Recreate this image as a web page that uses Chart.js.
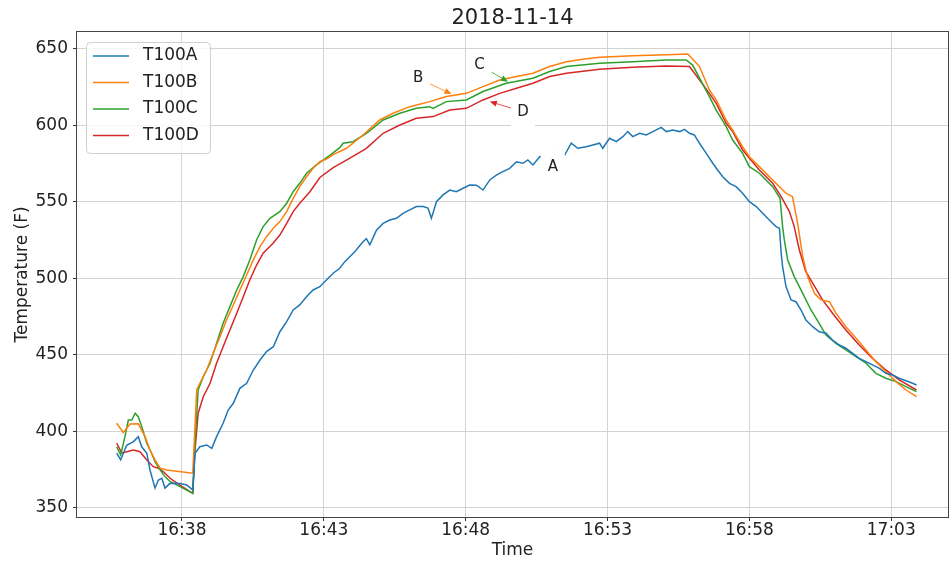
<!DOCTYPE html>
<html>
<head>
<meta charset="utf-8">
<script src="https://cdn.jsdelivr.net/npm/chart.js@4.4.0/dist/chart.umd.min.js"></script>
<style>
  html, body { margin: 0; padding: 0; background: #fff; }
  #wrap { width: 951px; height: 561px; }
</style>
</head>
<body>
<div id="wrap"><canvas id="tempChart" width="951" height="561"></canvas></div>
<script>
// Time is in minutes after 16:00, temperatures in F
const timeA = [35.70, 35.84, 36.05, 36.29, 36.46, 36.58, 36.76, 36.87, 37.05, 37.17, 37.29, 37.40, 37.58, 37.93, 38.17, 38.38,
  38.46, 38.63, 38.87, 39.05, 39.22, 39.45, 39.63, 39.81, 40.04, 40.28, 40.51, 40.75, 40.98, 41.22, 41.45, 41.69, 41.92,
  42.15, 42.39, 42.62, 42.86, 43.09, 43.33, 43.56, 43.74, 44.09, 44.38, 44.50, 44.62, 44.86, 45.09, 45.32, 45.56, 45.79,
  46.03, 46.26, 46.50, 46.67, 46.79, 46.97, 47.20, 47.44, 47.67, 47.91, 48.14, 48.38, 48.61, 48.85, 49.08, 49.31, 49.55,
  49.79, 50.02, 50.19, 50.37, 50.61, 51.00, 51.30, 51.49, 51.72, 51.95, 52.25, 52.48, 52.72, 52.83, 53.07, 53.31, 53.54,
  53.71, 53.89, 54.13, 54.36, 54.60, 54.89, 55.07, 55.30, 55.54, 55.71, 55.89, 56.06, 56.24, 56.48, 56.71, 56.88, 57.06,
  57.30, 57.53, 57.76, 58.00, 58.24, 58.47, 58.70, 58.94, 59.06, 59.12, 59.17, 59.29, 59.47, 59.64, 59.82, 59.99, 60.23,
  60.46, 60.70, 60.93, 61.17, 61.40, 61.64, 61.87, 62.11, 62.34, 62.58, 62.81, 63.05, 63.28, 63.52, 63.75, 63.89];
const tempA = [385.8, 381.4, 391.0, 393.4, 396.6, 390.0, 385.8, 375.0, 363.0, 368.3, 369.4, 363.0, 366.1, 366.0, 365.0, 361.8,
  385.8, 390.0, 391.2, 389.0, 396.6, 405.4, 414.0, 418.4, 428.2, 431.5, 440.0, 446.7, 452.2, 455.4, 465.2, 471.8, 479.4,
  482.7, 488.1, 492.5, 494.6, 499.0, 503.4, 506.7, 511.0, 517.5, 524.0, 526.0, 522.0, 531.7, 536.0, 538.2, 539.3, 542.6,
  544.8, 547.0, 547.0, 546.0, 539.3, 550.2, 554.6, 557.8, 556.7, 559.0, 561.1, 561.0, 557.8, 564.4, 567.6, 569.8, 572.0,
  576.3, 575.3, 577.5, 574.2, 579.6, 581.5, 583.0, 580.7, 588.4, 585.1, 586.1, 587.3, 588.4, 585.1, 591.6, 589.4, 592.7,
  596.0, 592.7, 594.9, 593.8, 596.0, 598.8, 596.0, 597.1, 596.0, 597.5, 594.9, 593.8, 588.4, 581.8, 575.3, 570.9, 566.5,
  562.2, 560.0, 555.7, 550.2, 547.0, 542.6, 538.2, 533.9, 532.8, 516.5, 507.8, 494.7, 486.0, 484.8, 479.4, 472.9, 468.5,
  465.2, 464.2, 459.8, 456.5, 454.4, 451.1, 447.8, 445.6, 443.5, 441.3, 438.0, 436.9, 434.8, 433.2, 431.5, 430.4];

const timeB = [35.70, 35.93, 36.17, 36.46, 36.70, 36.87, 37.05, 37.23, 37.46, 38.38, 38.52, 38.63, 38.87, 39.10, 39.34, 39.57,
  39.81, 40.04, 40.28, 40.51, 40.75, 40.98, 41.22, 41.45, 41.69, 41.92, 42.15, 42.39, 42.62, 42.86, 43.09, 43.33, 43.80,
  44.38, 44.97, 45.44, 46.03, 46.73, 47.32, 48.02, 48.61, 49.20, 49.79, 50.37, 50.96, 51.55, 52.13, 52.72, 53.89, 55.07,
  55.83, 56.24, 56.59, 56.83, 57.18, 57.41, 57.76, 58.00, 58.35, 58.82, 59.06, 59.29, 59.52, 59.70, 59.88, 60.05, 60.29,
  60.52, 60.82, 61.05, 61.40, 61.76, 62.11, 62.46, 62.81, 63.17, 63.52, 63.89];
const tempB = [405.4, 399.3, 404.9, 405.0, 396.6, 387.9, 381.4, 376.0, 374.8, 372.7, 427.1, 431.5, 440.2, 451.1, 462.0, 472.9,
  482.7, 492.5, 502.3, 512.0, 520.8, 527.3, 532.8, 537.2, 543.7, 552.4, 560.0, 566.5, 572.0, 576.3, 578.0, 581.0, 585.1,
  593.8, 603.6, 608.0, 612.3, 615.6, 618.9, 621.0, 625.4, 629.7, 632.0, 634.1, 638.5, 641.7, 643.3, 644.6, 645.6, 646.3,
  646.7, 638.5, 623.2, 616.7, 603.6, 597.0, 586.1, 579.6, 573.1, 564.4, 560.0, 555.7, 553.5, 536.0, 514.3, 501.2, 490.3,
  486.0, 484.8, 477.3, 468.5, 460.9, 453.3, 445.6, 439.1, 432.6, 427.1, 422.8];

const timeC = [35.70, 35.84, 35.99, 36.11, 36.23, 36.35, 36.46, 36.58, 36.76, 36.93, 37.05, 37.23, 37.40, 37.58, 37.93, 38.38,
  38.46, 38.57, 38.75, 38.99, 39.22, 39.45, 39.69, 39.93, 40.16, 40.39, 40.63, 40.86, 41.10, 41.45, 41.69, 41.92, 42.15,
  42.39, 42.74, 43.21, 43.56, 43.68, 44.03, 44.50, 45.09, 45.68, 46.26, 46.73, 46.85, 47.32, 48.02, 48.61, 49.43, 50.37,
  50.96, 51.55, 52.72, 53.89, 55.07, 55.77, 56.00, 56.59, 56.83, 57.18, 57.41, 57.76, 58.00, 58.35, 58.82, 59.08, 59.17,
  59.23, 59.35, 59.58, 59.88, 60.17, 60.46, 60.70, 61.05, 61.40, 61.76, 62.11, 62.46, 62.81, 63.17, 63.52, 63.89];
const tempC = [390.0, 384.6, 396.6, 407.5, 407.5, 411.9, 409.7, 403.2, 392.3, 385.8, 380.3, 375.0, 370.5, 367.3, 364.0, 359.6,
  392.3, 427.1, 435.8, 444.6, 457.6, 470.7, 481.6, 492.5, 501.2, 512.1, 525.2, 533.9, 539.3, 543.7, 549.2, 556.7, 562.2,
  568.8, 574.2, 580.5, 585.5, 588.4, 589.4, 594.9, 603.6, 608.0, 611.2, 612.3, 611.2, 615.6, 616.7, 622.2, 627.6, 630.9,
  635.3, 638.5, 640.6, 641.7, 642.8, 642.8, 639.5, 618.9, 610.0, 599.2, 590.5, 581.8, 573.1, 568.8, 560.0, 552.4, 533.9,
  525.2, 512.1, 501.2, 490.3, 479.4, 470.7, 463.0, 457.6, 453.3, 448.9, 444.6, 438.0, 434.8, 432.6, 429.3, 426.0];

const timeD = [35.70, 35.88, 36.05, 36.29, 36.52, 36.76, 36.99, 37.17, 37.34, 37.58, 37.93, 38.38, 38.46, 38.57, 38.75, 38.99,
  39.22, 39.45, 39.69, 39.93, 40.16, 40.39, 40.63, 40.86, 41.21, 41.45, 41.69, 41.92, 42.15, 42.51, 42.86, 43.33, 43.92,
  44.50, 45.09, 45.68, 46.26, 46.85, 47.44, 48.02, 48.61, 49.20, 49.79, 50.37, 50.96, 51.55, 52.72, 53.89, 55.07, 55.89,
  56.59, 56.83, 57.18, 57.41, 57.76, 58.00, 58.35, 58.82, 59.12, 59.41, 59.58, 59.76, 59.99, 60.23, 60.58, 60.93, 61.40,
  61.87, 62.34, 62.81, 63.28, 63.89];
const tempD = [392.3, 385.8, 386.8, 387.9, 386.8, 381.4, 377.0, 376.0, 373.8, 369.4, 365.0, 359.6, 387.9, 411.9, 422.7, 431.5,
  444.6, 455.4, 466.3, 477.3, 488.1, 499.0, 508.8, 516.5, 523.0, 528.4, 536.0, 543.7, 549.2, 556.7, 566.0, 572.5, 578.6,
  585.1, 594.9, 600.3, 604.7, 605.8, 610.1, 611.2, 616.7, 621.0, 624.3, 627.6, 632.0, 634.1, 636.7, 638.0, 638.9, 638.5,
  621.0, 614.5, 601.4, 596.0, 584.0, 578.6, 570.9, 562.2, 553.5, 543.7, 533.9, 518.6, 504.5, 496.9, 486.0, 477.3, 466.3,
  456.5, 447.8, 440.2, 433.7, 427.1];

const seriesNames = ['T100A', 'T100B', 'T100C', 'T100D'];
const seriesColors = ['#1f77b4', '#ff7f0e', '#2ca02c', '#d62728'];
const yTickValues = [350, 400, 450, 500, 550, 600, 650];
const xTickValues = [38, 43, 48, 53, 58, 63];
const xTickLabels = ['16:38', '16:43', '16:48', '16:53', '16:58', '17:03'];

// text labels with arrows pointing at the curves (data coordinates)
const noteLabels = ['B', 'C', 'D', 'A'];
const noteTextPos = [[46.32, 630.9], [48.49, 639.5], [50.02, 609.0], [51.07, 573.1]];
const noteTipPos = [[47.50, 620.6], [49.49, 628.6], [48.85, 615.6], null];
const noteColors = ['#ff7f0e', '#2ca02c', '#d62728', '#1f77b4'];

const toPoints = (ts, vs) => ts.map((t, i) => ({ x: t, y: vs[i] }));
const seriesData = [toPoints(timeA, tempA), toPoints(timeB, tempB), toPoints(timeC, tempC), toPoints(timeD, tempD)];

Chart.defaults.font.family = "'DejaVu Sans', sans-serif";
Chart.defaults.color = '#222';

function drawArrow(ctx, x0, y0, x1, y1, color) {
    const ang = Math.atan2(y1 - y0, x1 - x0);
    ctx.save();
    ctx.strokeStyle = color;
    ctx.fillStyle = color;
    ctx.lineWidth = 0.8;
    ctx.beginPath();
    ctx.moveTo(x0, y0);
    ctx.lineTo(x1 - 5 * Math.cos(ang), y1 - 5 * Math.sin(ang));
    ctx.stroke();
    ctx.beginPath();
    ctx.moveTo(x1, y1);
    ctx.lineTo(x1 - 7 * Math.cos(ang) + 3 * Math.sin(ang), y1 - 7 * Math.sin(ang) - 3 * Math.cos(ang));
    ctx.lineTo(x1 - 7 * Math.cos(ang) - 3 * Math.sin(ang), y1 - 7 * Math.sin(ang) + 3 * Math.cos(ang));
    ctx.closePath();
    ctx.fill();
    ctx.restore();
}

const framePlugin = {
    id: 'frameAndNotes',
    afterDraw(chart) {
        const ctx = chart.ctx;
        const { left, top, right, bottom } = chart.chartArea;
        const xs = chart.scales.x, ys = chart.scales.y;

        // annotations: arrow first, then white text box over its start
        noteLabels.forEach((label, i) => {
            const tx = xs.getPixelForValue(noteTextPos[i][0]);
            const ty = ys.getPixelForValue(noteTextPos[i][1]);
            if (noteTipPos[i]) {
                drawArrow(ctx, tx, ty, xs.getPixelForValue(noteTipPos[i][0]), ys.getPixelForValue(noteTipPos[i][1]), noteColors[i]);
            }
            ctx.save();
            ctx.fillStyle = '#fff';
            ctx.fillRect(tx - 12, ty - 16, 24, 32);
            ctx.fillStyle = '#222';
            ctx.font = "15px 'DejaVu Sans'";
            ctx.textAlign = 'center';
            ctx.textBaseline = 'middle';
            ctx.fillText(label, tx, ty);
            ctx.restore();
        });

        // axes frame
        ctx.save();
        ctx.strokeStyle = '#444';
        ctx.lineWidth = 1;
        ctx.strokeRect(Math.round(left) - 0.5, Math.round(top) - 0.5, Math.round(right - left) + 1, Math.round(bottom - top) + 1);
        ctx.restore();

        // legend box in the upper left
        ctx.save();
        const lx = left + 9, ly = top + 10, lw = 124, lh = 111;
        ctx.fillStyle = 'rgba(255,255,255,0.8)';
        ctx.strokeStyle = '#d0d0d0';
        ctx.lineWidth = 1;
        ctx.beginPath();
        ctx.roundRect(lx + 0.5, ly + 0.5, lw, lh, 4);
        ctx.fill();
        ctx.stroke();
        ctx.font = "17px 'DejaVu Sans'";
        ctx.textBaseline = 'middle';
        ctx.fillStyle = '#222';
        seriesNames.forEach((name, i) => {
            const y = ly + 14 + i * 26.5;
            ctx.strokeStyle = seriesColors[i];
            ctx.lineWidth = 1.5;
            ctx.beginPath();
            ctx.moveTo(lx + 7, y);
            ctx.lineTo(lx + 43, y);
            ctx.stroke();
            ctx.fillText(name, lx + 57, y);
        });
        ctx.restore();
    }
};

new Chart(document.getElementById('tempChart'), {
    type: 'line',
    data: {
        datasets: seriesNames.map((name, i) => ({
            label: name,
            data: seriesData[i],
            borderColor: seriesColors[i],
            backgroundColor: seriesColors[i],
            borderWidth: 1.5,
            pointRadius: 0,
            tension: 0,
            fill: false
        }))
    },
    options: {
        responsive: false,
        animation: false,
        devicePixelRatio: 1,
        layout: { padding: { left: 0, right: 3, top: 0, bottom: 0 } },
        plugins: {
            legend: { display: false },
            tooltip: { enabled: false },
            title: {
                display: true,
                text: '2018-11-14',
                fullSize: false,
                color: '#222',
                font: { size: 21, weight: 'normal', lineHeight: 1.2 },
                padding: { top: 6, bottom: 0.8 }
            }
        },
        scales: {
            x: {
                type: 'linear',
                min: 34.3,
                max: 65.0,
                afterFit: (scale) => { scale.height = 44; },
                afterBuildTicks: (scale) => { scale.ticks = xTickValues.map(v => ({ value: v })); },
                grid: { color: '#d3d3d3', lineWidth: 1, tickLength: 4, tickColor: '#333' },
                border: { display: false },
                ticks: {
                    font: { size: 17, lineHeight: 1 },
                    padding: 1,
                    maxRotation: 0,
                    color: '#222',
                    callback: (v) => xTickLabels[xTickValues.indexOf(v)]
                },
                title: { display: true, text: 'Time', font: { size: 17 }, color: '#222', padding: { top: 0, bottom: 0 } }
            },
            y: {
                type: 'linear',
                min: 344.1,
                max: 661.1,
                afterFit: (scale) => { scale.width = 77; },
                afterBuildTicks: (scale) => { scale.ticks = yTickValues.map(v => ({ value: v })); },
                grid: { color: '#d3d3d3', lineWidth: 1, tickLength: 4, tickColor: '#333' },
                border: { display: false },
                ticks: { font: { size: 17 }, padding: 5, color: '#222' },
                title: { display: true, text: 'Temperature (F)', font: { size: 17 }, color: '#222', padding: { top: 12, bottom: 0 } }
            }
        }
    },
    plugins: [framePlugin]
});
</script>
</body>
</html>
